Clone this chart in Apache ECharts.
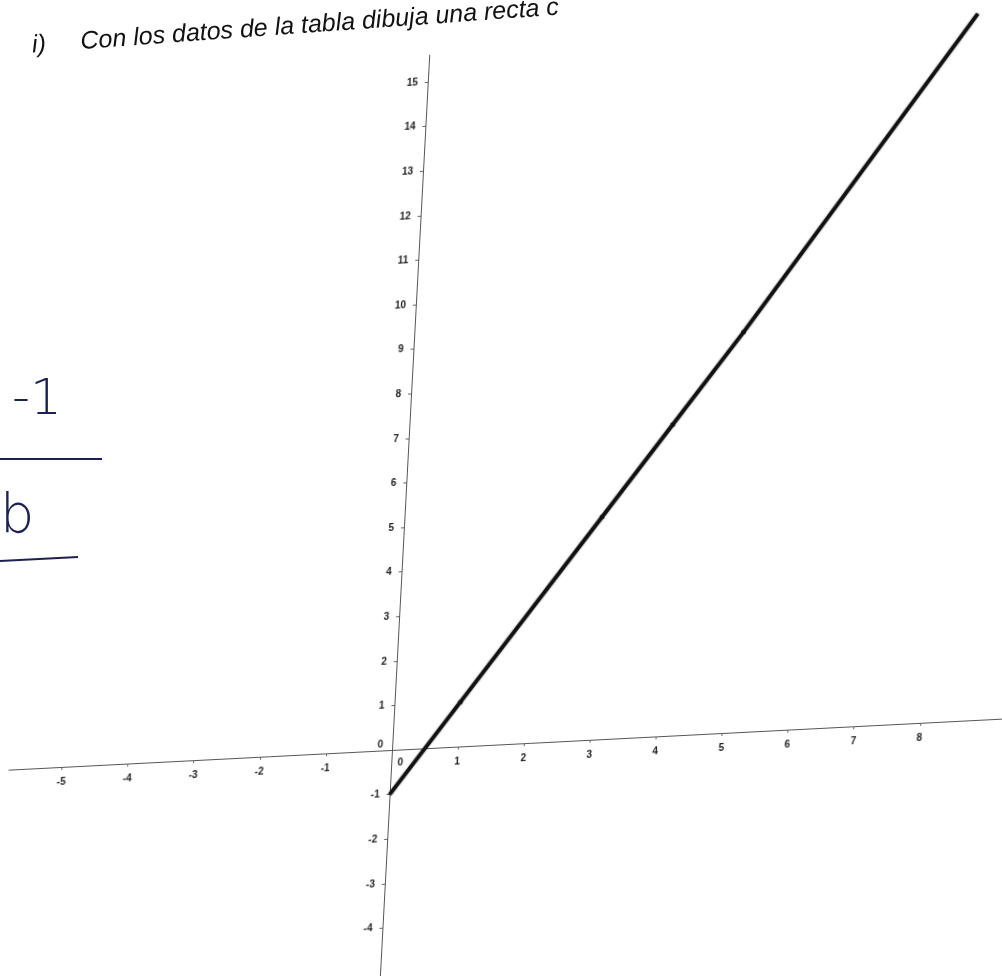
<!DOCTYPE html>
<html>
<head>
<meta charset="utf-8">
<script src="https://cdn.jsdelivr.net/npm/echarts@6/dist/echarts.min.js"></script>
<style>
  html, body { margin: 0; padding: 0; background: #fff; }
  body { width: 1002px; height: 976px; overflow: hidden; position: relative; }
  /* the photo is slightly skewed, so the plane is too */
  #plane {
    position: absolute; left: -100px; top: -100px;
    width: 1250px; height: 1200px;
    transform-origin: 492px 850px;
    transform: matrix(0.9987, -0.0513, -0.0535, 0.9986, 0, 0);
  }
  #notes { position: absolute; left: 0; top: 0; width: 1002px; height: 976px; }
</style>
</head>
<body>
<div id="plane"></div>
<div id="notes"></div>
<script>
// tick labels shown on each axis (0 is written apart, beside the origin)
var xTicks = [-5, -4, -3, -2, -1, 1, 2, 3, 4, 5, 6, 7, 8];
var yTicks = [-4, -3, -2, -1, 1, 2, 3, 4, 5, 6, 7, 8, 9, 10, 11, 12, 13, 14, 15];

// points of the drawn line (x, y)
var pointX = [0, 1, 3, 4, 5, 8.3];
var pointY = [-1, 1, 5, 7, 9, 15.9];
// marked points on the line
var marked = [false, true, true, true, true, false];

var heading = 'i)     Con los datos de la tabla dibuja una recta c';
var noteTop = '-1';
var noteBottom = 'b';

var lineData = pointX.map(function(x, i) {
    return {
        value: [x, pointY[i]],
        symbolSize: marked[i] ? 5 : 0
    };
});

var plane = echarts.init(document.getElementById('plane'));

var xMin = -5.8, xMax = 10, yMin = -6, yMax = 15.6;
var unitX = 66.1, unitY = 44.6;
var ox = 492, oy = 850;

plane.setOption({
    animation: false,
    grid: {
        left: ox + xMin * unitX, top: oy - yMax * unitY,
        width: (xMax - xMin) * unitX, height: (yMax - yMin) * unitY
    },
    xAxis: {
        type: 'value', min: xMin, max: xMax,
        // axes cross at the origin
        offset: yMin * unitY,
        splitLine: { show: false },
        axisLine: { onZero: false, lineStyle: { color: '#555', width: 1 } },
        axisTick: { length: 3, customValues: xTicks, lineStyle: { color: '#666' } },
        axisLabel: {
            customValues: xTicks, margin: 10,
            fontSize: 10, fontWeight: 'bold', color: '#222', fontFamily: 'Liberation Sans'
        }
    },
    yAxis: {
        type: 'value', min: yMin, max: yMax,
        offset: xMin * unitX,
        splitLine: { show: false },
        axisLine: { onZero: false, lineStyle: { color: '#555', width: 1 } },
        axisTick: { length: 3, customValues: yTicks, lineStyle: { color: '#666' } },
        axisLabel: {
            customValues: yTicks, margin: 10,
            fontSize: 10, fontWeight: 'bold', color: '#222', fontFamily: 'Liberation Sans'
        }
    },
    series: [{
        type: 'line',
        data: lineData,
        clip: false,
        symbol: 'circle',
        showSymbol: true,
        itemStyle: { color: '#111' },
        lineStyle: { color: '#111', width: 4, shadowBlur: 2, shadowColor: 'rgba(0,0,0,0.5)' }
    }]
});

// the two zeros next to the origin
var o = plane.convertToPixel({ gridIndex: 0 }, [0, 0]);
var zeroFont = 'bold 10px "Liberation Sans"';
plane.setOption({
    graphic: [
        { type: 'text', x: o[0] - 12, y: o[1] - 6, style: { text: '0', font: zeroFont, fill: '#222', align: 'center', verticalAlign: 'middle' } },
        { type: 'text', x: o[0] + 9, y: o[1] + 13, style: { text: '0', font: zeroFont, fill: '#222', align: 'center', verticalAlign: 'middle' } }
    ]
});

var notes = echarts.init(document.getElementById('notes'));
var ink = '#1c2150';
notes.setOption({
    animation: false,
    graphic: [
        {
            type: 'text', x: 33, y: 58, rotation: 0.072,
            style: { text: heading, fill: '#111', font: 'italic 25px "Liberation Sans"', verticalAlign: 'bottom' }
        },
        {
            type: 'text', x: 12, y: 426,
            style: { text: noteTop, fill: ink, font: '300 50px "DejaVu Sans"', verticalAlign: 'bottom' }
        },
        {
            type: 'line', shape: { x1: 0, y1: 459, x2: 102, y2: 459 },
            style: { stroke: ink, lineWidth: 2 }
        },
        {
            type: 'text', x: 0, y: 545,
            style: { text: noteBottom, fill: ink, font: '300 54px "DejaVu Sans"', verticalAlign: 'bottom' }
        },
        {
            type: 'line', shape: { x1: 0, y1: 561, x2: 78, y2: 557 },
            style: { stroke: ink, lineWidth: 2 }
        }
    ]
});
</script>
</body>
</html>
